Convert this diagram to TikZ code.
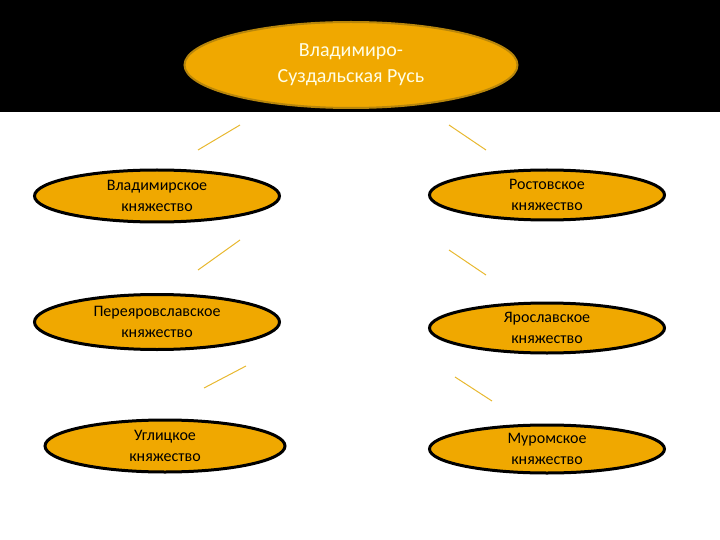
\documentclass[tikz,border=0pt]{standalone}
\usepackage{fontspec}
\setmainfont{Carlito}
\usetikzlibrary{shapes.geometric}
\definecolor{org}{HTML}{F0A800}
\definecolor{brd}{HTML}{B8860B}
\definecolor{lin}{HTML}{E8B830}
\begin{document}
\begin{tikzpicture}[x=1pt,y=-1pt,
  el/.style={ellipse,fill=org,draw=black,line width=3pt,inner sep=0pt,align=center,font=\fontsize{16}{21}\selectfont},
  ln/.style={draw=lin,line width=1pt}]
\useasboundingbox (0,0) rectangle (720,540);
\fill[black] (0,0) rectangle (720,112);
\node[ellipse,fill=org,draw=brd,line width=2pt,minimum width=333pt,minimum height=86pt,align=center,text=white!90!yellow,font=\fontsize{20}{26}\selectfont] (top) at (351,65) {Владимиро-\\Суздальская Русь};
\node[el,minimum width=245pt,minimum height=52pt] (l1) at (157,196) {Владимирское\\княжество};
\node[el,minimum width=235pt,minimum height=50pt] (r1) at (547,195) {Ростовское\\княжество};
\node[el,minimum width=245pt,minimum height=55pt] (l2) at (157,322) {Переяровславское\\княжество};
\node[el,minimum width=235pt,minimum height=50pt] (r2) at (547,328) {Ярославское\\княжество};
\node[el,minimum width=240pt,minimum height=52pt] (l3) at (165,446) {Углицкое\\княжество};
\node[el,minimum width=235pt,minimum height=48pt] (r3) at (547,449) {Муромское\\княжество};
\coordinate (a1) at (240,125); \coordinate (a2) at (198,150);
\coordinate (b1) at (449,125); \coordinate (b2) at (486,150);
\coordinate (c1) at (240,240); \coordinate (c2) at (198,270);
\coordinate (d1) at (449,250); \coordinate (d2) at (486,275);
\coordinate (e1) at (246,366); \coordinate (e2) at (204,388);
\coordinate (f1) at (455,377); \coordinate (f2) at (492,401);
\draw[ln] (a1)--(a2); \draw[ln] (b1)--(b2); \draw[ln] (c1)--(c2);
\draw[ln] (d1)--(d2); \draw[ln] (e1)--(e2); \draw[ln] (f1)--(f2);
\end{tikzpicture}
\end{document}
